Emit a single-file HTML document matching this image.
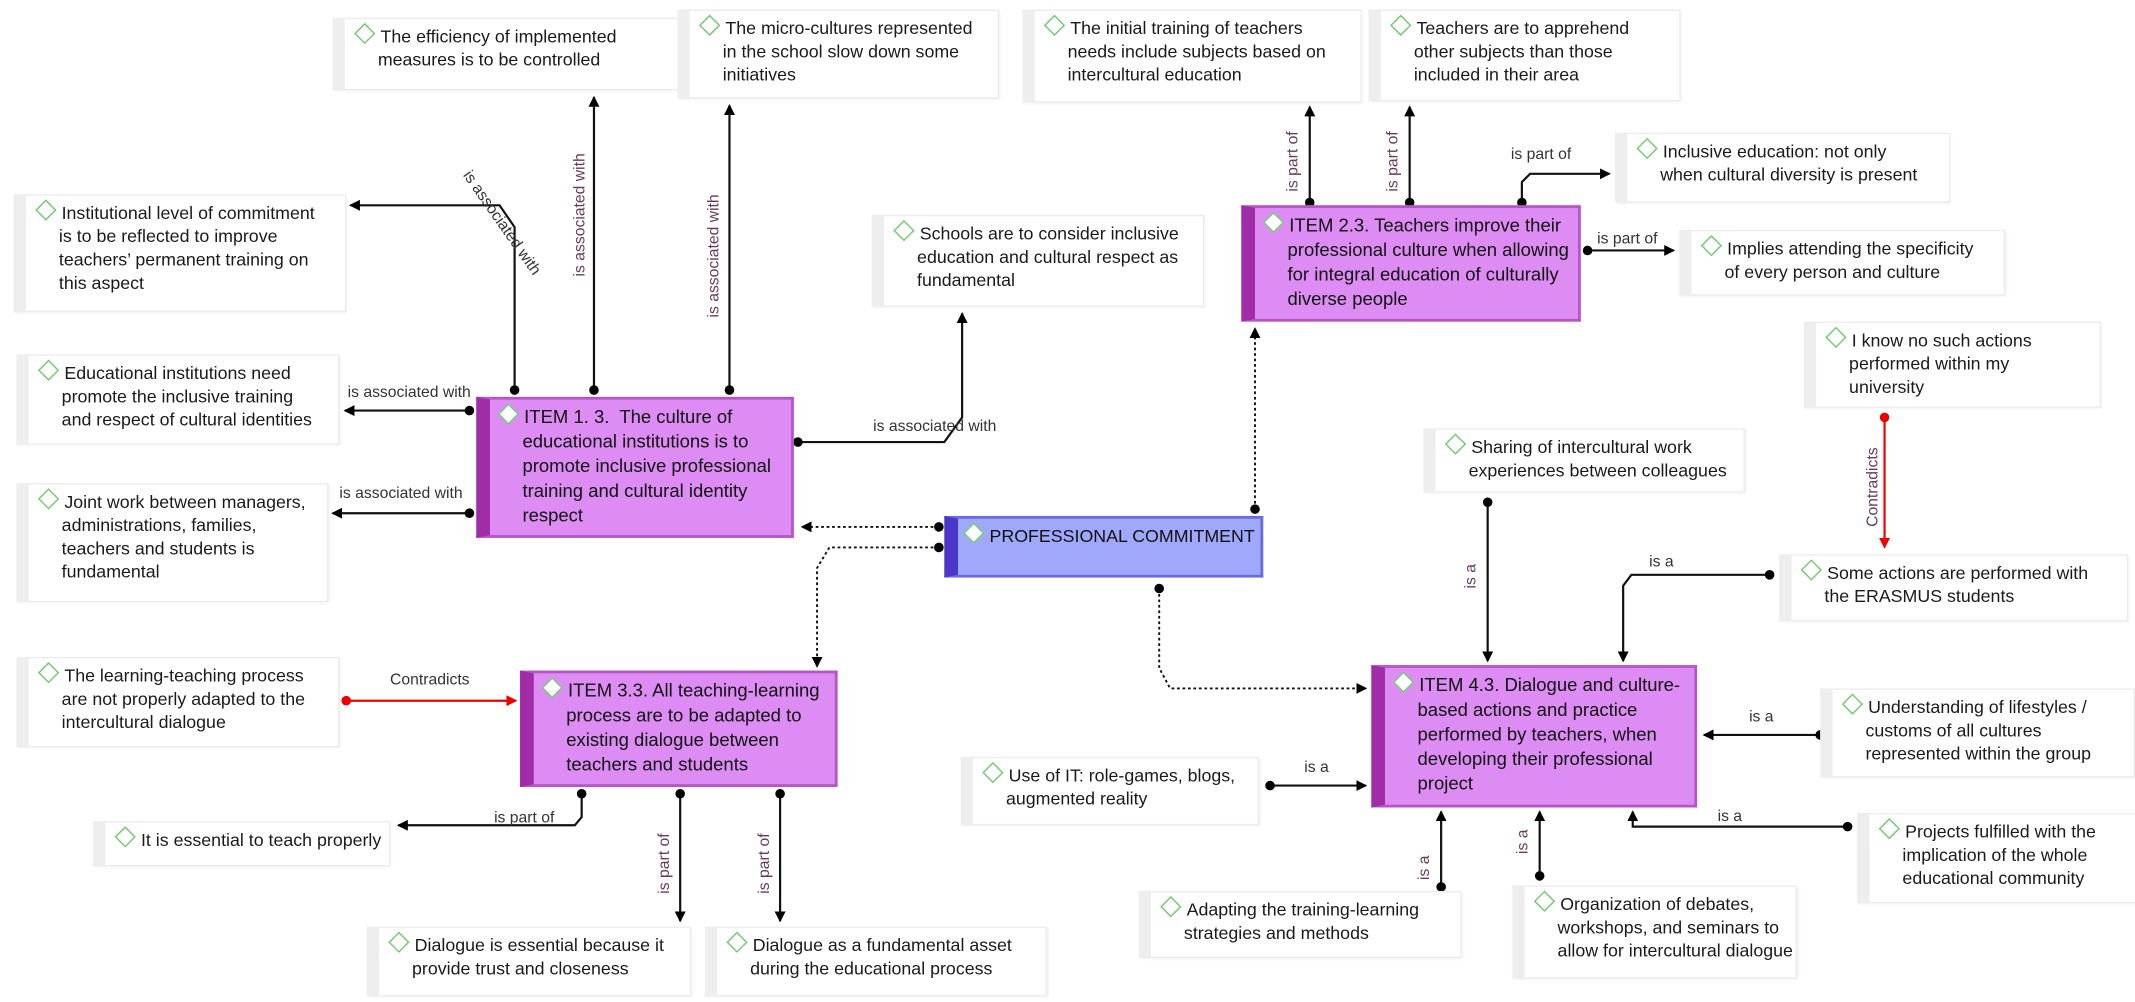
<!DOCTYPE html>
<html><head><meta charset="utf-8"><style>
html,body{margin:0;padding:0;background:#fff;width:2135px;height:1002px;overflow:hidden}
#c{position:absolute;left:0;top:0;width:1560px;height:732px;transform:scale(1.3686);transform-origin:0 0;font-family:"Liberation Sans",sans-serif}
.n{position:absolute;background:#fff;border:1px solid #ececec;border-left:9px solid #eeeeee;box-sizing:border-box;padding:4px 6px 4px 6px;font-size:13px;line-height:17px;color:#1a1a1a;white-space:nowrap;box-shadow:1px 1px 2px rgba(0,0,0,0.06)}
.i{position:absolute;background:#dc8cf2;border:2px solid #b853c8;border-left:10px solid #a02ca8;box-sizing:border-box;padding:4px 4px 4px 5px;font-size:13.5px;line-height:18px;color:#111;white-space:nowrap}
.p{position:absolute;background:#9fa8fb;border:2px solid #6a6ae0;border-left:10px solid #4a36c8;box-sizing:border-box;padding:4px 3px;font-size:13px;line-height:18px;color:#111;white-space:nowrap}
.d{display:inline-block;width:9px;height:9px;border:1.5px solid #6cc96c;background:#fff;transform:rotate(45deg);margin:0 6px 0 3px;vertical-align:1px}
svg{position:absolute;left:0;top:0}
svg text{font-family:"Liberation Sans",sans-serif;font-size:11.5px;fill:#333}
svg text.v{fill:#6a3a5a}
</style></head><body><div id="c">
<svg width="1560" height="732" viewBox="0 0 1560 732">
<defs>
<marker id="a" markerWidth="8" markerHeight="8" refX="7" refY="4" orient="auto" markerUnits="userSpaceOnUse"><path d="M0,0 L8,4 L0,8 z" fill="#000"/></marker>
<marker id="r" markerWidth="8" markerHeight="8" refX="7" refY="4" orient="auto" markerUnits="userSpaceOnUse"><path d="M0,0 L8,4 L0,8 z" fill="#e00"/></marker>
</defs>
<g stroke="#111" stroke-width="1.6" fill="none">
<path d="M376,285 V166 L365,150 H256" marker-end="url(#a)"/>
<path d="M434,285 V71" marker-end="url(#a)"/>
<path d="M533,285 V77" marker-end="url(#a)"/>
<path d="M343,300 H252" marker-end="url(#a)"/>
<path d="M343,375 H243" marker-end="url(#a)"/>
<path d="M583,323 H690 L703,305 V229" marker-end="url(#a)"/>
<path d="M957,148 V78" marker-end="url(#a)"/>
<path d="M1030,148 V78" marker-end="url(#a)"/>
<path d="M1112,148 V133 L1118,127 H1176" marker-end="url(#a)"/>
<path d="M1160,183 H1223" marker-end="url(#a)"/>
<path d="M1087,367 V483" marker-end="url(#a)"/>
<path d="M1293,420 H1192 L1186,428 V483" marker-end="url(#a)"/>
<path d="M1330,537 H1245" marker-end="url(#a)"/>
<path d="M1350,604 H1193 V593" marker-end="url(#a)"/>
<path d="M1125,640 V593" marker-end="url(#a)"/>
<path d="M1053,648 V593" marker-end="url(#a)"/>
<path d="M928,574 H998" marker-end="url(#a)"/>
<path d="M425,580 V597 L420,603 H291" marker-end="url(#a)"/>
<path d="M497,580 V673" marker-end="url(#a)"/>
<path d="M570,580 V673" marker-end="url(#a)"/>
</g>
<g stroke="#111" stroke-width="1.4" fill="none" stroke-dasharray="2,2">
<path d="M686,385 H586" marker-end="url(#a)"/>
<path d="M686,400 H606 L597,415 V487" marker-end="url(#a)"/>
<path d="M917,372 V240" marker-end="url(#a)"/>
<path d="M847,430 V488 L855,503 H998" marker-end="url(#a)"/>
</g>
<g stroke="#e00" stroke-width="1.6" fill="none">
<path d="M1377,305 V400" marker-end="url(#r)"/>
<path d="M253,512 H377" marker-end="url(#r)"/>
</g>
<g fill="#000">
<circle cx="376" cy="285" r="3.5"/><circle cx="434" cy="285" r="3.5"/><circle cx="533" cy="285" r="3.5"/>
<circle cx="343" cy="300" r="3.5"/><circle cx="343" cy="375" r="3.5"/><circle cx="583" cy="323" r="3.5"/>
<circle cx="686" cy="385" r="3.5"/><circle cx="686" cy="400" r="3.5"/><circle cx="917" cy="372" r="3.5"/><circle cx="847" cy="430" r="3.5"/>
<circle cx="957" cy="148" r="3.5"/><circle cx="1030" cy="148" r="3.5"/><circle cx="1112" cy="148" r="3.5"/><circle cx="1160" cy="183" r="3.5"/>
<circle cx="1087" cy="367" r="3.5"/><circle cx="1293" cy="420" r="3.5"/><circle cx="1330" cy="537" r="3.5"/><circle cx="1350" cy="604" r="3.5"/>
<circle cx="1125" cy="640" r="3.5"/><circle cx="1053" cy="648" r="3.5"/><circle cx="928" cy="574" r="3.5"/>
<circle cx="425" cy="580" r="3.5"/><circle cx="497" cy="580" r="3.5"/><circle cx="570" cy="580" r="3.5"/>
</g>
<g fill="#e00"><circle cx="1377" cy="305" r="3.5"/><circle cx="253" cy="512" r="3.5"/></g>
<text transform="translate(338,128) rotate(55)">is associated with</text>
<text class="v" transform="translate(427,202) rotate(-90)">is associated with</text>
<text class="v" transform="translate(525,232) rotate(-90)">is associated with</text>
<text x="254" y="290">is associated with</text>
<text x="248" y="364">is associated with</text>
<text x="638" y="315">is associated with</text>
<text class="v" transform="translate(948,140) rotate(-90)">is part of</text>
<text class="v" transform="translate(1021,140) rotate(-90)">is part of</text>
<text x="1104" y="116">is part of</text>
<text x="1167" y="178">is part of</text>
<text class="v" transform="translate(1372,385) rotate(-90)">Contradicts</text>
<text class="v" transform="translate(1078,430) rotate(-90)">is a</text>
<text x="1205" y="414">is a</text>
<text x="1278" y="527">is a</text>
<text x="1255" y="600">is a</text>
<text class="v" transform="translate(1116,624) rotate(-90)">is a</text>
<text class="v" transform="translate(1044,643) rotate(-90)">is a</text>
<text x="953" y="564">is a</text>
<text x="285" y="500">Contradicts</text>
<text x="361" y="601">is part of</text>
<text class="v" transform="translate(489,653) rotate(-90)">is part of</text>
<text class="v" transform="translate(562,653) rotate(-90)">is part of</text>
</svg>

<div class="n" style="left:243px;top:13px;width:254px;height:53px"><span class="d"></span>The efficiency of implemented<br>&nbsp;&nbsp;&nbsp;&nbsp;&nbsp;measures is to be controlled</div>
<div class="n" style="left:495px;top:7px;width:235px;height:65px"><span class="d"></span>The micro-cultures represented<br>&nbsp;&nbsp;&nbsp;&nbsp;&nbsp;in the school slow down some<br>&nbsp;&nbsp;&nbsp;&nbsp;&nbsp;initiatives</div>
<div class="n" style="left:747px;top:7px;width:248px;height:68px"><span class="d"></span>The initial training of teachers<br>&nbsp;&nbsp;&nbsp;&nbsp;&nbsp;needs include subjects based on<br>&nbsp;&nbsp;&nbsp;&nbsp;&nbsp;intercultural education</div>
<div class="n" style="left:1000px;top:7px;width:228px;height:67px"><span class="d"></span>Teachers are to apprehend<br>&nbsp;&nbsp;&nbsp;&nbsp;&nbsp;other subjects than those<br>&nbsp;&nbsp;&nbsp;&nbsp;&nbsp;included in their area</div>
<div class="n" style="left:1180px;top:97px;width:245px;height:51px"><span class="d"></span>Inclusive education: not only<br>&nbsp;&nbsp;&nbsp;&nbsp;&nbsp;when cultural diversity is present</div>
<div class="n" style="left:1227px;top:168px;width:238px;height:48px"><span class="d"></span>Implies attending the specificity<br>&nbsp;&nbsp;&nbsp;&nbsp;&nbsp;of every person and culture</div>
<div class="n" style="left:10px;top:142px;width:243px;height:86px"><span class="d"></span>Institutional level of commitment<br>&nbsp;&nbsp;&nbsp;&nbsp;&nbsp;is to be reflected to improve<br>&nbsp;&nbsp;&nbsp;&nbsp;&nbsp;teachers’ permanent training on<br>&nbsp;&nbsp;&nbsp;&nbsp;&nbsp;this aspect</div>
<div class="n" style="left:637px;top:157px;width:243px;height:67px"><span class="d"></span>Schools are to consider inclusive<br>&nbsp;&nbsp;&nbsp;&nbsp;&nbsp;education and cultural respect as<br>&nbsp;&nbsp;&nbsp;&nbsp;&nbsp;fundamental</div>
<div class="n" style="left:12px;top:259px;width:236px;height:66px"><span class="d"></span>Educational institutions need<br>&nbsp;&nbsp;&nbsp;&nbsp;&nbsp;promote the inclusive training<br>&nbsp;&nbsp;&nbsp;&nbsp;&nbsp;and respect of cultural identities</div>
<div class="n" style="left:12px;top:353px;width:228px;height:87px"><span class="d"></span>Joint work between managers,<br>&nbsp;&nbsp;&nbsp;&nbsp;&nbsp;administrations, families,<br>&nbsp;&nbsp;&nbsp;&nbsp;&nbsp;teachers and students is<br>&nbsp;&nbsp;&nbsp;&nbsp;&nbsp;fundamental</div>
<div class="n" style="left:1318px;top:235px;width:217px;height:63px"><span class="d"></span>I know no such actions<br>&nbsp;&nbsp;&nbsp;&nbsp;&nbsp;performed within my<br>&nbsp;&nbsp;&nbsp;&nbsp;&nbsp;university</div>
<div class="n" style="left:1040px;top:313px;width:235px;height:47px"><span class="d"></span>Sharing of intercultural work<br>&nbsp;&nbsp;&nbsp;&nbsp;&nbsp;experiences between colleagues</div>
<div class="n" style="left:1300px;top:405px;width:255px;height:49px"><span class="d"></span>Some actions are performed with<br>&nbsp;&nbsp;&nbsp;&nbsp;&nbsp;the ERASMUS students</div>
<div class="n" style="left:12px;top:480px;width:236px;height:66px"><span class="d"></span>The learning-teaching process<br>&nbsp;&nbsp;&nbsp;&nbsp;&nbsp;are not properly adapted to the<br>&nbsp;&nbsp;&nbsp;&nbsp;&nbsp;intercultural dialogue</div>
<div class="n" style="left:1330px;top:503px;width:230px;height:65px"><span class="d"></span>Understanding of lifestyles /<br>&nbsp;&nbsp;&nbsp;&nbsp;&nbsp;customs of all cultures<br>&nbsp;&nbsp;&nbsp;&nbsp;&nbsp;represented within the group</div>
<div class="n" style="left:702px;top:553px;width:218px;height:50px"><span class="d"></span>Use of IT: role-games, blogs,<br>&nbsp;&nbsp;&nbsp;&nbsp;&nbsp;augmented reality</div>
<div class="n" style="left:68px;top:600px;width:217px;height:33px"><span class="d"></span>It is essential to teach properly</div>
<div class="n" style="left:1357px;top:594px;width:206px;height:66px"><span class="d"></span>Projects fulfilled with the<br>&nbsp;&nbsp;&nbsp;&nbsp;&nbsp;implication of the whole<br>&nbsp;&nbsp;&nbsp;&nbsp;&nbsp;educational community</div>
<div class="n" style="left:268px;top:677px;width:237px;height:51px"><span class="d"></span>Dialogue is essential because it<br>&nbsp;&nbsp;&nbsp;&nbsp;&nbsp;provide trust and closeness</div>
<div class="n" style="left:515px;top:677px;width:250px;height:51px"><span class="d"></span>Dialogue as a fundamental asset<br>&nbsp;&nbsp;&nbsp;&nbsp;&nbsp;during the educational process</div>
<div class="n" style="left:832px;top:651px;width:236px;height:49px"><span class="d"></span>Adapting the training-learning<br>&nbsp;&nbsp;&nbsp;&nbsp;&nbsp;strategies and methods</div>
<div class="n" style="left:1105px;top:647px;width:208px;height:68px"><span class="d"></span>Organization of debates,<br>&nbsp;&nbsp;&nbsp;&nbsp;&nbsp;workshops, and seminars to<br>&nbsp;&nbsp;&nbsp;&nbsp;&nbsp;allow for intercultural dialogue</div>

<div class="i" style="left:348px;top:290px;width:232px;height:103px"><span class="d"></span>ITEM 1. 3.&nbsp; The culture of<br>&nbsp;&nbsp;&nbsp;&nbsp;&nbsp;educational institutions is to<br>&nbsp;&nbsp;&nbsp;&nbsp;&nbsp;promote inclusive professional<br>&nbsp;&nbsp;&nbsp;&nbsp;&nbsp;training and cultural identity<br>&nbsp;&nbsp;&nbsp;&nbsp;&nbsp;respect</div>
<div class="i" style="left:907px;top:150px;width:248px;height:85px"><span class="d"></span>ITEM 2.3. Teachers improve their<br>&nbsp;&nbsp;&nbsp;&nbsp;&nbsp;professional culture when allowing<br>&nbsp;&nbsp;&nbsp;&nbsp;&nbsp;for integral education of culturally<br>&nbsp;&nbsp;&nbsp;&nbsp;&nbsp;diverse people</div>
<div class="i" style="left:380px;top:490px;width:232px;height:85px"><span class="d"></span>ITEM 3.3. All teaching-learning<br>&nbsp;&nbsp;&nbsp;&nbsp;&nbsp;process are to be adapted to<br>&nbsp;&nbsp;&nbsp;&nbsp;&nbsp;existing dialogue between<br>&nbsp;&nbsp;&nbsp;&nbsp;&nbsp;teachers and students</div>
<div class="i" style="left:1002px;top:486px;width:238px;height:104px"><span class="d"></span>ITEM 4.3. Dialogue and culture-<br>&nbsp;&nbsp;&nbsp;&nbsp;&nbsp;based actions and practice<br>&nbsp;&nbsp;&nbsp;&nbsp;&nbsp;performed by teachers, when<br>&nbsp;&nbsp;&nbsp;&nbsp;&nbsp;developing their professional<br>&nbsp;&nbsp;&nbsp;&nbsp;&nbsp;project</div>
<div class="p" style="left:690px;top:377px;width:233px;height:45px"><span class="d"></span>PROFESSIONAL COMMITMENT</div>
</div></body></html>
